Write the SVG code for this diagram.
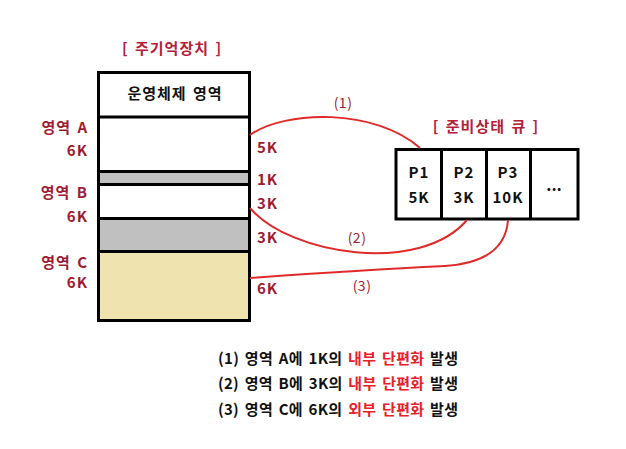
<svg xmlns="http://www.w3.org/2000/svg" width="626" height="449" viewBox="0 0 626 449">
<style>
text{font-family:"Noto Sans CJK KR","Noto Sans",sans-serif;font-weight:bold;font-size:15px;letter-spacing:1px;word-spacing:2px}
.lab{fill:#9e1b32}
.ttl{fill:#b52038}
.blk{fill:#111}
.red{fill:#e8202a}
.box{stroke:#000;stroke-width:3}
.cv{fill:none;stroke:#e02a2a;stroke-width:2}
.num{fill:#9e1b32;font-weight:normal;font-size:14px;letter-spacing:0.5px}
.leg{font-size:15px;letter-spacing:0}
</style>
<rect width="626" height="449" fill="#fff"/>
<g id="memory">
<text class="ttl" x="172" y="54" text-anchor="middle">[ 주기억장치 ]</text>
<rect x="98.5" y="72.5" width="151" height="45" fill="#fff"/>
<rect x="98.5" y="117" width="151" height="54" fill="#fff"/>
<rect x="98.5" y="171.5" width="151" height="13" fill="#c0c0c0"/>
<rect x="98.5" y="184.5" width="151" height="34" fill="#fff"/>
<rect x="98.5" y="218.5" width="151" height="33" fill="#c0c0c0"/>
<rect x="98.5" y="251.5" width="151" height="69" fill="#efe4b0"/>
<g class="box">
<rect x="98.5" y="72.5" width="151" height="248" fill="none"/>
<line x1="98.5" y1="117" x2="249.5" y2="117"/>
<line x1="98.5" y1="171.5" x2="249.5" y2="171.5"/>
<line x1="98.5" y1="184.5" x2="249.5" y2="184.5"/>
<line x1="98.5" y1="218.5" x2="249.5" y2="218.5"/>
<line x1="98.5" y1="251.5" x2="249.5" y2="251.5"/>
</g>
<text class="blk" x="175" y="99" text-anchor="middle">운영체제 영역</text>
</g>
<g id="region-a">
<text class="lab" x="88" y="133" text-anchor="end">영역 A</text>
<text class="lab" x="88" y="156" text-anchor="end">6K</text>
<text class="lab" x="257" y="153">5K</text>
<text class="lab" x="257" y="185">1K</text>
</g>
<g id="region-b">
<text class="lab" x="88" y="198" text-anchor="end">영역 B</text>
<text class="lab" x="88" y="222" text-anchor="end">6K</text>
<text class="lab" x="257" y="209">3K</text>
<text class="lab" x="257" y="243">3K</text>
</g>
<g id="region-c">
<text class="lab" x="88" y="268" text-anchor="end">영역 C</text>
<text class="lab" x="88" y="288" text-anchor="end">6K</text>
<text class="lab" x="257" y="294">6K</text>
</g>
<g id="queue">
<text class="ttl" x="486" y="132" text-anchor="middle">[ 준비상태 큐 ]</text>
<rect class="box" x="396" y="149.5" width="182" height="69.5" fill="#fff"/>
<g class="box">
<line x1="441.5" y1="149.5" x2="441.5" y2="219"/>
<line x1="486.5" y1="149.5" x2="486.5" y2="219"/>
<line x1="530.5" y1="149.5" x2="530.5" y2="219"/>
</g>
<text class="blk" x="419" y="178" text-anchor="middle">P1</text>
<text class="blk" x="419" y="203" text-anchor="middle">5K</text>
<text class="blk" x="464" y="178" text-anchor="middle">P2</text>
<text class="blk" x="464" y="203" text-anchor="middle">3K</text>
<text class="blk" x="508" y="178" text-anchor="middle">P3</text>
<text class="blk" x="508" y="203" text-anchor="middle">10K</text>
<text class="blk" x="554" y="191" text-anchor="middle" style="font-size:16px;letter-spacing:0">...</text>
</g>
<g id="connectors">
<path class="cv" d="M250,135 C285,110 375,108 420,148"/>
<path class="cv" d="M250,208 C290,255 420,275 467,220"/>
<path class="cv" d="M250,278 Q360,270 445,266 Q505,262 508,220"/>
<text class="num" x="343" y="108" text-anchor="middle">(1)</text>
<text class="num" x="357" y="243" text-anchor="middle">(2)</text>
<text class="num" x="362" y="291" text-anchor="middle">(3)</text>
</g>
<g id="legend">
<text class="blk leg" x="218" y="364" textLength="240" lengthAdjust="spacing">(1) 영역 A에 1K의 <tspan class="red">내부 단편화</tspan> 발생</text>
<text class="blk leg" x="218" y="389" textLength="240" lengthAdjust="spacing">(2) 영역 B에 3K의 <tspan class="red">내부 단편화</tspan> 발생</text>
<text class="blk leg" x="218" y="415" textLength="240" lengthAdjust="spacing">(3) 영역 C에 6K의 <tspan class="red">외부 단편화</tspan> 발생</text>
</g>
</svg>
